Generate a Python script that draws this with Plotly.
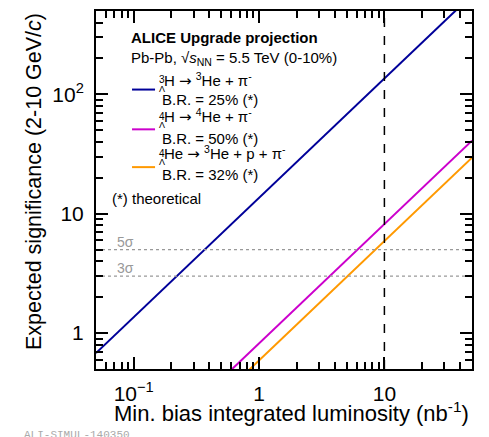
import numpy as np
import plotly.graph_objects as go

# ---- data ----
lumi = [0.05, 1, 10, 50]                      # nb^-1
sig_h3l = [0.68, 13.6, 136, 680]              # 3LH -> 3He + pi-
sig_h4l = [0.041, 0.82, 8.2, 41]              # 4LH -> 4He + pi-
sig_he4l = [0.0295, 0.59, 6.0, 29.5]          # 4LHe -> 3He + p + pi-
x_range = [0.05, 50]
y_range = [0.5, 500]
lumi_ref = 10
sigma_levels = [5, 3]
sigma_labels = ["5σ", "3σ"]
x_tickvals = [0.1, 1, 10]
x_ticktext = ["10<sup>−1</sup>", "1", "10"]
y_tickvals = [1, 10, 100]
y_ticktext = ["1", "10", "10<sup>2</sup>"]
minor_vals = [k * 10.0 ** e for e in range(-2, 3) for k in range(2, 10)]

colors = ["#000099", "#CC00CC", "#FF9900"]
FONT = "Liberation Sans, Arial, sans-serif"

W, H = 489, 437
L, R, T, B = 96, 471.7, 9, 369


def px(x):
    return (x - L) / (R - L)


def py(y):
    return (B - y) / (B - T)


fig = go.Figure()
for ys, c in zip([sig_h3l, sig_h4l, sig_he4l], colors):
    fig.add_trace(go.Scatter(x=lumi, y=ys, mode="lines",
                             line=dict(color=c, width=2), showlegend=False,
                             hoverinfo="skip"))

for lv in sigma_levels:
    fig.add_trace(go.Scatter(x=x_range, y=[lv, lv], mode="lines",
                             line=dict(color="#999999", width=1.3, dash="dot"),
                             showlegend=False, hoverinfo="skip"))

fig.add_trace(go.Scatter(x=[lumi_ref, lumi_ref], y=y_range, mode="lines",
                         line=dict(color="black", width=1.5, dash="dash"),
                         showlegend=False, hoverinfo="skip"))

# invisible trace for the minor-tick overlay axes
fig.add_trace(go.Scatter(x=x_range, y=y_range, mode="lines", xaxis="x2",
                         yaxis="y2", line=dict(width=0), opacity=0,
                         showlegend=False, hoverinfo="skip"))

axis_common = dict(type="log", showgrid=False, zeroline=False, showline=True,
                   linecolor="#000000", linewidth=2, mirror="allticks",
                   ticks="inside", tickwidth=1.6, tickcolor="#000000",
                   tickmode="array")

fig.update_layout(
    xaxis=dict(range=list(np.log10(x_range)), tickvals=x_tickvals,
               ticktext=x_ticktext, ticklabelstandoff=5, ticklen=12,
               tickfont=dict(family=FONT, size=21, color="black"),
               **axis_common),
    yaxis=dict(range=list(np.log10(y_range)), tickvals=y_tickvals,
               ticktext=y_ticktext, ticklabelstandoff=6, ticklen=12,
               tickfont=dict(family=FONT, size=21, color="black"),
               **axis_common),
    xaxis2=dict(range=list(np.log10(x_range)), tickvals=minor_vals,
                showticklabels=False, ticklen=7, overlaying="x", anchor="y",
                side="bottom", **axis_common),
    yaxis2=dict(range=list(np.log10(y_range)), tickvals=minor_vals,
                showticklabels=False, ticklen=7, overlaying="y", anchor="x",
                side="left", **axis_common),
)

ann = []


def text(x, y, s, size=15, color="black", xanchor="left", yanchor="middle",
         angle=0, family=FONT):
    ann.append(dict(x=px(x), y=py(y), xref="paper", yref="paper", text=s,
                    showarrow=False, xanchor=xanchor, yanchor=yanchor,
                    textangle=angle, font=dict(family=family, size=size, color=color)))


ARROW = '<span style="font-family:DejaVu Sans;font-size:15px">→</span>'

# legend block
text(129, 36, "<b>ALICE Upgrade projection</b>")
text(129, 57, "Pb-Pb, √<i>s</i><sub>NN</sub> = 5.5 TeV (0-10%)")

rows = [
    (82, 98, 88, "3", "H " + ARROW + " <sup>3</sup>He + π<sup>-</sup>", "B.R. = 25% (*)"),
    (119, 137, 128, "4", "H " + ARROW + " <sup>4</sup>He + π<sup>-</sup>", "B.R. = 50% (*)"),
    (156, 173, 166, "4", "He " + ARROW + " <sup>3</sup>He + p + π<sup>-</sup>", "B.R. = 32% (*)"),
]
shapes = []
for (y1, y2, yk, mass, s1, s2), c in zip(rows, colors):
    text(157, y1 - 4, mass, size=10)
    text(156.5, y1 + 5, "Λ", size=9)
    text(162, y1 - 4, s1)
    text(160, y2, s2)
    shapes.append(dict(type="line", xref="paper", yref="paper",
                       x0=px(132), x1=px(155), y0=py(yk), y1=py(yk),
                       line=dict(color=c, width=2)))
text(110, 198, "(*) theoretical")

# sigma labels
text(115, 241, sigma_labels[0], size=14, color="#999999")
text(115, 267, sigma_labels[1], size=14, color="#999999")

# axis titles
text(471, 412, "Min. bias integrated luminosity (nb<sup>-1</sup>)", size=22,
     xanchor="right")
text(34, 180, "Expected significance (2-10 GeV/<i>c</i>)", size=21.5,
     xanchor="center", angle=-90)

# watermark
text(22, 427, "ALI-SIMUL-140350", size=11, color="#aaaaaa", yanchor="top",
     family="Liberation Mono, monospace")

fig.update_layout(width=W, height=H, autosize=False,
                  margin=dict(l=L, r=W - R, t=T, b=H - B, pad=0),
                  paper_bgcolor="white", plot_bgcolor="white",
                  annotations=ann, shapes=shapes, showlegend=False)

fig.write_html("out.html")
